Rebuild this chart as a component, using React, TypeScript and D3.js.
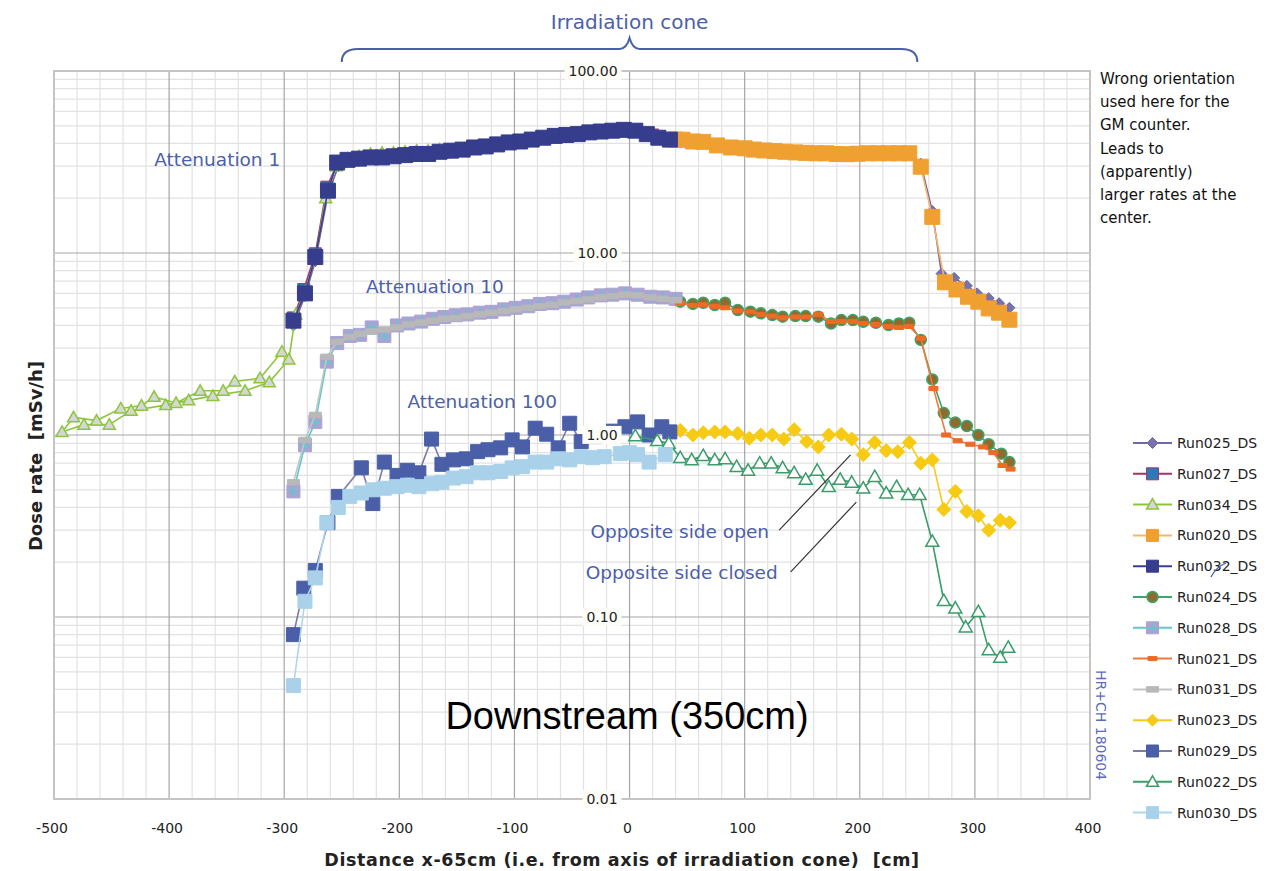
import React, { useEffect, useRef } from "react";
import * as d3 from "d3";

// dose rate scans downstream, [distance x-65cm in cm, dose rate in mSv/h]
// attenuation 1
const run025 = [
  [-292, 4.0], [-282, 5.8], [-273, 9.0], [-262, 21], [-253, 30], [-240, 32], [-220, 33], [-200, 34],
  [-180, 34.5], [-160, 35.5], [-140, 37], [-120, 38.5], [-100, 40], [-80, 42], [-60, 43.5], [-40, 45],
  [-20, 46], [0, 46.5], [20, 44], [40, 41.5], [60, 40], [80, 38.5], [100, 37.5], [120, 36.5], [140, 36],
  [160, 35.5], [180, 35], [200, 35], [220, 35.5], [243, 35.5], [253, 31], [263, 17], [271, 7.7],
  [282, 7.3], [293, 6.6], [302, 6.0], [312, 5.65], [321, 5.3], [330, 5.0],
];
const run027 = [
  [-292, 4.4], [-283, 6.3], [-273, 9.9], [-263, 23], [-254, 31], [-240, 32.5], [-220, 33.5], [-200, 34.5],
  [-180, 35], [-160, 36], [-140, 37.5], [-120, 39], [-100, 40.5], [-80, 42.5], [-60, 44], [-40, 45.5],
  [-20, 46.5], [0, 47], [20, 44.5], [40, 42],
];
const run034 = [
  [-302, 2.87], [-321, 2.05], [-343, 1.97], [-353, 1.75], [-373, 1.75], [-394, 1.5], [-413, 1.62],
  [-424, 1.45], [-442, 1.4], [-463, 1.2], [-483, 1.25], [-493, 1.04], [-474, 1.14], [-452, 1.14],
  [-433, 1.36], [-403, 1.46], [-383, 1.55], [-362, 1.64], [-334, 1.75], [-313, 1.95], [-296, 2.6],
  [-290, 4.6], [-282, 6.1], [-273, 9.3], [-264, 20], [-255, 30], [-245, 33], [-235, 34], [-225, 35],
  [-215, 35.5], [-205, 35.5], [-195, 36], [-185, 36.5], [-175, 36.5], [-165, 37],
];
const run020 = [
  [40, 42], [46, 41.9], [55, 41], [64, 40.8], [76, 39], [88, 38], [100, 37.6], [108, 37], [117, 36.6],
  [126, 36.3], [135, 36], [144, 35.7], [153, 35.5], [162, 35.3], [171, 35.3], [180, 35], [189, 34.9],
  [198, 35.1], [207, 35.3], [216, 35.3], [225, 35.3], [234, 35.3], [243, 35.3], [253, 29.8], [263, 15.8],
  [274, 6.9], [284, 6.3], [294, 5.75], [303, 5.4], [312, 4.96], [321, 4.7], [330, 4.3],
];
const run032 = [
  [-292, 4.25], [-282, 6.0], [-273, 9.5], [-262, 22], [-254, 31.4], [-245, 32.5], [-235, 33], [-225, 33.5],
  [-215, 33.5], [-205, 34], [-195, 34.5], [-185, 35], [-175, 35], [-165, 36], [-155, 36.5], [-145, 37],
  [-135, 38], [-125, 38.5], [-115, 39.5], [-105, 40.5], [-95, 41], [-85, 42], [-75, 43], [-65, 44],
  [-55, 44.5], [-45, 45], [-35, 46], [-25, 46.5], [-15, 47], [-5, 47.5], [5, 47], [15, 45], [25, 43], [35, 42],
];
// attenuation 10
const run024 = [
  [44, 5.4], [55, 5.25], [64, 5.33], [74, 5.18], [83, 5.33], [94, 4.86], [105, 4.76], [114, 4.66],
  [124, 4.56], [133, 4.47], [144, 4.5], [153, 4.5], [164, 4.47], [175, 4.1], [184, 4.28], [194, 4.28],
  [203, 4.19], [214, 4.14], [225, 4.02], [234, 4.1], [243, 4.14], [253, 3.33], [263, 2.02], [273, 1.32],
  [283, 1.17], [293, 1.12], [303, 1.0], [312, 0.89], [323, 0.79], [330, 0.71],
];
const run028 = [
  [-292, 0.49], [-282, 0.88], [-273, 1.18], [-263, 2.53], [-254, 3.2], [-243, 3.5], [-234, 3.55],
  [-224, 3.9], [-213, 3.5], [-202, 4.0], [-192, 4.1], [-181, 4.2], [-171, 4.35], [-161, 4.45],
  [-151, 4.55], [-141, 4.6], [-130, 4.7], [-120, 4.75], [-109, 4.9], [-99, 5.0], [-88, 5.1], [-78, 5.25],
  [-67, 5.3], [-57, 5.4], [-46, 5.55], [-36, 5.7], [-25, 5.85], [-15, 5.9], [-4, 6.0], [7, 5.9],
  [18, 5.75], [29, 5.7], [40, 5.6],
];
const run021 = [
  [44, 5.3], [55, 5.15], [64, 5.2], [74, 5.1], [83, 5.0], [94, 4.8], [105, 4.75], [114, 4.6], [124, 4.5],
  [133, 4.4], [144, 4.45], [153, 4.45], [164, 4.6], [175, 4.2], [184, 4.2], [194, 4.2], [203, 4.1],
  [214, 4.05], [225, 3.95], [234, 3.9], [243, 3.95], [253, 3.4], [264, 1.8], [275, 1.0], [285, 0.93],
  [296, 0.89], [307, 0.86], [316, 0.8], [324, 0.68], [331, 0.65],
];
const run031 = [
  [-292, 0.55], [-282, 0.94], [-273, 1.29], [-263, 2.69], [-254, 3.25], [-243, 3.45], [-234, 3.6],
  [-224, 3.7], [-213, 3.8], [-202, 3.9], [-192, 4.05], [-181, 4.15], [-171, 4.25], [-161, 4.35],
  [-151, 4.4], [-141, 4.5], [-130, 4.6], [-120, 4.7], [-109, 4.8], [-99, 4.9], [-88, 5.0], [-78, 5.1],
  [-67, 5.2], [-57, 5.35], [-46, 5.45], [-36, 5.55], [-25, 5.7], [-15, 5.8], [-4, 5.9], [7, 5.85],
  [18, 5.7], [29, 5.6], [40, 5.5],
];
// attenuation 100
const run023 = [
  [44, 1.06], [55, 1.0], [64, 1.03], [74, 1.04], [83, 1.04], [94, 1.02], [104, 0.96], [114, 1.0],
  [124, 1.0], [134, 0.95], [143, 1.07], [154, 0.92], [164, 0.86], [173, 1.0], [184, 1.01], [193, 0.95],
  [203, 0.78], [213, 0.91], [223, 0.82], [233, 0.81], [243, 0.91], [253, 0.7], [263, 0.73], [273, 0.39],
  [283, 0.49], [293, 0.38], [303, 0.36], [312, 0.3], [322, 0.34], [330, 0.33],
];
const run029 = [
  [-292, 0.08], [-283, 0.144], [-273, 0.18], [-262, 0.33], [-253, 0.46], [-233, 0.66], [-223, 0.42],
  [-213, 0.71], [-202, 0.6], [-193, 0.64], [-183, 0.62], [-172, 0.95], [-163, 0.69], [-153, 0.73],
  [-142, 0.74], [-132, 0.81], [-123, 0.83], [-112, 0.85], [-102, 0.94], [-93, 0.86], [-82, 1.09],
  [-72, 1.01], [-62, 0.85], [-52, 1.16], [-42, 0.92], [-30, 0.98], [-14, 1.05], [-4, 1.11], [7, 1.18],
  [17, 1.0], [28, 1.11], [35, 1.04],
];
const run022 = [
  [5, 0.99], [24, 0.93], [34, 0.9], [44, 0.75], [54, 0.73], [64, 0.77], [74, 0.73], [83, 0.74],
  [93, 0.67], [103, 0.64], [113, 0.7], [123, 0.7], [133, 0.66], [143, 0.62], [153, 0.57], [163, 0.64],
  [173, 0.52], [183, 0.57], [193, 0.55], [203, 0.51], [213, 0.59], [223, 0.48], [232, 0.52], [242, 0.47],
  [252, 0.47], [263, 0.26], [273, 0.123], [283, 0.112], [292, 0.088], [303, 0.107], [312, 0.066],
  [322, 0.06], [329, 0.068],
];
const run030 = [
  [-292, 0.042], [-282, 0.122], [-273, 0.164], [-263, 0.33], [-253, 0.4], [-243, 0.46], [-233, 0.48],
  [-223, 0.5], [-213, 0.51], [-202, 0.52], [-193, 0.53], [-183, 0.52], [-172, 0.54], [-163, 0.55],
  [-153, 0.58], [-142, 0.59], [-132, 0.62], [-123, 0.62], [-112, 0.63], [-102, 0.66], [-93, 0.67],
  [-82, 0.71], [-72, 0.71], [-62, 0.74], [-52, 0.73], [-42, 0.76], [-32, 0.75], [-22, 0.76], [-8, 0.79],
  [0, 0.8], [7, 0.78], [17, 0.71], [31, 0.78],
];

const xTicks = [-500, -400, -300, -200, -100, 0, 100, 200, 300, 400];
const yTicks = [0.01, 0.1, 1, 10, 100];
const yTickLabels = ["0.01", "0.10", "1.00", "10.00", "100.00"];
const noteLines = [
  "Wrong orientation", "used here for the", "GM counter.", "Leads to",
  "(apparently)", "larger rates at the", "center.",
];

// legend order = drawing order
const series = [
  { name: "Run025_DS", data: run025, line: "#6e68a6", shape: "diamond", size: 11, fill: "#7771ad", stroke: "#6e68a6" },
  { name: "Run027_DS", data: run027, line: "#a3356b", shape: "square", size: 12, fill: "#2e78b8", stroke: "#a3356b" },
  { name: "Run034_DS", data: run034, line: "#8cc63e", shape: "triangle", size: 12, fill: "#d6d6d6", stroke: "#8cc63e" },
  { name: "Run020_DS", data: run020, line: "#f6b56a", shape: "square", size: 15, fill: "#f0a030", stroke: "#f0a030" },
  { name: "Run032_DS", data: run032, line: "#3b3f91", shape: "square", size: 15, fill: "#363d8c", stroke: "#363d8c" },
  { name: "Run024_DS", data: run024, line: "#3ba56e", shape: "circle", size: 11, fill: "#8c6d2f", stroke: "#3ba56e" },
  { name: "Run028_DS", data: run028, line: "#5ccaca", shape: "squareCross", size: 13, fill: "#aaa3d3", stroke: "#aaa3d3" },
  { name: "Run021_DS", data: run021, line: "#f07a3a", shape: "dash", size: 9, fill: "#ee6a25", stroke: "#ee6a25" },
  { name: "Run031_DS", data: run031, line: "#c4c4c4", shape: "dash", size: 12, fill: "#b8b8b8", stroke: "#b8b8b8" },
  { name: "Run023_DS", data: run023, line: "#f7ca1a", shape: "diamond", size: 14, fill: "#f7cb14", stroke: "#f7cb14" },
  { name: "Run029_DS", data: run029, line: "#7b7aa8", shape: "square", size: 14, fill: "#4a5fa8", stroke: "#4a5fa8" },
  { name: "Run022_DS", data: run022, line: "#3a9d6a", shape: "triangle", size: 13, fill: "#ffffff", stroke: "#3a9d6a" },
  { name: "Run030_DS", data: run030, line: "#aed6ee", shape: "square", size: 14, fill: "#a9d2ea", stroke: "#a9d2ea" },
];

// annotation texts, placed in data coordinates
const notes = [
  { text: "Attenuation 1", x: -413, y: 30 },
  { text: "Attenuation 10", x: -229, y: 6.0 },
  { text: "Attenuation 100", x: -193, y: 1.41 },
  { text: "Opposite side open", x: -34, y: 0.272 },
  { text: "Opposite side closed", x: -38, y: 0.162 },
];
const pointers = [
  [[130, 0.3], [192, 0.777]],
  [[140, 0.177], [197, 0.428]],
];

const markerPath = (shape, s) => {
  const h = s / 2;
  switch (shape) {
    case "diamond":
      return `M0,${-h}L${h},0L0,${h}L${-h},0Z`;
    case "triangle":
      return `M0,${-h}L${h},${h * 0.75}L${-h},${h * 0.75}Z`;
    case "circle":
      return `M${h},0A${h},${h} 0 1,1 ${-h},0A${h},${h} 0 1,1 ${h},0Z`;
    case "dash":
      return `M${-h},${-h * 0.45}h${s}v${s * 0.45}h${-s}Z`;
    default:
      return `M${-h},${-h}h${s}v${s}h${-s}Z`;
  }
};

const BLUE = "#4c5fa9";
const FONT = "'DejaVu Sans', Verdana, sans-serif";

const App = () => {
  const svgRef = useRef();

  useEffect(() => {
    document.body.style.margin = "0";
    const svg = d3.select(svgRef.current);
    svg.selectAll("*").remove();

    const x = d3.scaleLinear().domain([-500, 400]).range([54, 1090]);
    const y = d3.scaleLog().domain([0.01, 100]).range([799, 71]);

    svg.append("rect").attr("width", 1268).attr("height", 871).attr("fill", "#fff");

    // grid //
    const grid = svg.append("g");
    const minorX = d3.range(-500, 401, 20).filter(v => v % 100 !== 0);
    const minorY = [];
    [0.01, 0.1, 1, 10].forEach(d => d3.range(2, 10).forEach(k => minorY.push(d * k)));

    grid.selectAll(".mx").data(minorX).join("line")
      .attr("x1", d => x(d)).attr("x2", d => x(d)).attr("y1", y(100)).attr("y2", y(0.01))
      .attr("stroke", "#e2e2e2").attr("stroke-width", 1.2);
    grid.selectAll(".my").data(minorY).join("line")
      .attr("x1", x(-500)).attr("x2", x(400)).attr("y1", d => y(d)).attr("y2", d => y(d))
      .attr("stroke", "#e2e2e2").attr("stroke-width", 1.2);
    grid.selectAll(".Mx").data(xTicks).join("line")
      .attr("x1", d => x(d)).attr("x2", d => x(d)).attr("y1", y(100)).attr("y2", y(0.01))
      .attr("stroke", "#a6a6a6").attr("stroke-width", 1.2);
    grid.selectAll(".My").data(yTicks).join("line")
      .attr("x1", x(-500)).attr("x2", x(400)).attr("y1", d => y(d)).attr("y2", d => y(d))
      .attr("stroke", "#a6a6a6").attr("stroke-width", 1.2);
    grid.append("rect")
      .attr("x", x(-500)).attr("y", y(100)).attr("width", x(400) - x(-500)).attr("height", y(0.01) - y(100))
      .attr("fill", "none").attr("stroke", "#c4c4c4").attr("stroke-width", 2);

    // series //
    const line = d3.line().x(d => x(d[0])).y(d => y(d[1]));
    const drawMarker = (g, s) => {
      g.append("path").attr("d", markerPath(s.shape, s.size))
        .attr("fill", s.fill).attr("stroke", s.stroke)
        .attr("stroke-width", s.shape === "triangle" || s.shape === "circle" ? 1.5 : 1);
      if (s.shape === "squareCross") {
        const h = s.size * 0.4;
        g.append("path").attr("d", `M${-h},0H${h}M0,${-h}V${h}`)
          .attr("stroke", s.line).attr("stroke-width", 1.5);
      }
    };

    series.forEach(s => {
      const g = svg.append("g");
      g.append("path").datum(s.data).attr("d", line)
        .attr("fill", "none").attr("stroke", s.line).attr("stroke-width", 1.6);
      g.selectAll("g").data(s.data).join("g")
        .attr("transform", d => `translate(${x(d[0])},${y(d[1])})`)
        .each(function () { drawMarker(d3.select(this), s); });
    });

    // y tick labels on the x=0 line, with white boxes //
    yTicks.forEach((v, i) => {
      const t = svg.append("text")
        .attr("x", x(0) - 12).attr("y", y(v)).attr("dy", "0.35em")
        .attr("text-anchor", "end").attr("font-family", FONT).attr("font-size", 14)
        .attr("fill", "#222").text(yTickLabels[i]);
      const b = t.node().getBBox();
      svg.insert("rect", () => t.node())
        .attr("x", b.x - 4).attr("y", b.y - 1).attr("width", b.width + 8).attr("height", b.height + 2)
        .attr("fill", "#fdfdf8");
    });

    // x tick labels //
    svg.selectAll(".xt").data(xTicks).join("text")
      .attr("x", d => x(d) - 2).attr("y", y(0.01) + 34)
      .attr("text-anchor", "middle").attr("font-family", FONT).attr("font-size", 14)
      .attr("fill", "#222").text(d => d);

    // axis titles //
    svg.append("text")
      .attr("x", 622).attr("y", 866).attr("text-anchor", "middle")
      .attr("font-family", FONT).attr("font-size", 17.5).attr("font-weight", "bold").attr("fill", "#222")
      .attr("letter-spacing", 0.6).attr("xml:space", "preserve")
      .text("Distance x-65cm (i.e. from axis of irradiation cone)  [cm]");
    svg.append("text")
      .attr("transform", "translate(42,456) rotate(-90)").attr("text-anchor", "middle")
      .attr("font-family", FONT).attr("font-size", 18).attr("font-weight", "bold").attr("fill", "#222")
      .attr("xml:space", "preserve")
      .text("Dose rate  [mSv/h]");

    // irradiation cone brace //
    const x0 = x(-250), x1 = x(250), xc = x(0);
    svg.append("path")
      .attr("d", `M${x0},62Q${x0},49 ${x0 + 16},49L${xc - 10},49Q${xc - 3},49 ${xc},38Q${xc + 3},49 ${xc + 10},49L${x1 - 16},49Q${x1},49 ${x1},62`)
      .attr("fill", "none").attr("stroke", BLUE).attr("stroke-width", 2);
    svg.append("text")
      .attr("x", xc).attr("y", 29).attr("text-anchor", "middle")
      .attr("font-family", FONT).attr("font-size", 20).attr("fill", BLUE).text("Irradiation cone");

    // annotations //
    notes.forEach(n => {
      svg.append("text").attr("x", x(n.x)).attr("y", y(n.y))
        .attr("font-family", FONT).attr("font-size", 18.5).attr("fill", BLUE).text(n.text);
    });
    pointers.forEach(p => {
      svg.append("path").datum(p).attr("d", line)
        .attr("stroke", "#333").attr("stroke-width", 1.2).attr("fill", "none");
    });

    svg.append("text")
      .attr("x", 627).attr("y", 729).attr("text-anchor", "middle")
      .attr("font-family", "'Liberation Sans', Arial, sans-serif").attr("font-size", 38)
      .attr("fill", "#000").text("Downstream (350cm)");

    svg.append("text")
      .attr("transform", "translate(1096,670) rotate(90)")
      .attr("font-family", FONT).attr("font-size", 14).attr("fill", "#5a6cc0")
      .text("HR+CH 180604");

    // note at top right //
    noteLines.forEach((l, i) => {
      svg.append("text").attr("x", 1100).attr("y", 84 + i * 23.2)
        .attr("font-family", FONT).attr("font-size", 15).attr("fill", "#111").text(l);
    });

    // legend //
    const leg = svg.append("g");
    series.forEach((s, i) => {
      const ly = 443 + i * 30.8;
      const g = leg.append("g").attr("transform", `translate(1133,${ly})`);
      g.append("line").attr("x1", 0).attr("x2", 39).attr("stroke", s.line).attr("stroke-width", 2);
      drawMarker(g.append("g").attr("transform", "translate(19.5,0)"), { ...s, size: Math.min(s.size, 12) });
      g.append("text").attr("x", 44).attr("dy", "0.35em")
        .attr("font-family", FONT).attr("font-size", 14).attr("fill", "#222").text(s.name);
    });
    // handwritten correction mark on Run032 entry
    leg.append("path").attr("d", "M1211,577Q1216,567 1226,563")
      .attr("fill", "none").attr("stroke", "#3a5bbf").attr("stroke-width", 1.3);
  }, []);

  return <svg ref={svgRef} width={1268} height={871} style={{ display: "block" }}></svg>;
};

export default App;
